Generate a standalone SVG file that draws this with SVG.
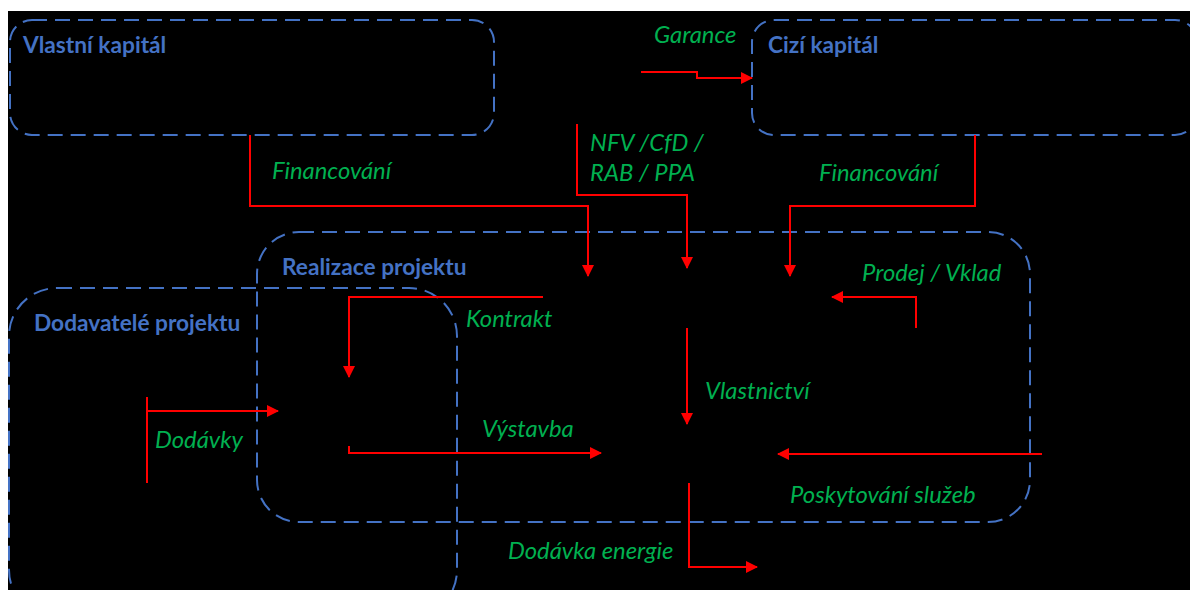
<svg xmlns="http://www.w3.org/2000/svg" width="1190" height="590" viewBox="0 0 1190 590">
<defs>
<marker id="ah" viewBox="0 0 12 12" refX="11" refY="6" markerWidth="12" markerHeight="12" markerUnits="userSpaceOnUse" orient="auto">
<path d="M0,0 L12,6 L0,12 Z" fill="#FF0000"/>
</marker>
</defs>
<style>
.box{fill:none;stroke:#4472C4;stroke-width:2;stroke-dasharray:15 8}
.title{font-family:Lato,"Liberation Sans",sans-serif;font-weight:bold;font-size:22.7px;fill:#4472C4}
.lbl{font-family:Lato,"Liberation Sans",sans-serif;font-style:italic;font-size:23.8px;fill:#00B050}
.con{fill:none;stroke:#FF0000;stroke-width:2;marker-end:url(#ah)}
.line{fill:none;stroke:#FF0000;stroke-width:2}
</style>
<rect x="0" y="0" width="1190" height="590" fill="#FFFFFF"/>
<rect x="8" y="11" width="1182" height="579" fill="#000000"/>
<g id="vlastni-kapital">
<rect class="box" x="10" y="20" width="484" height="115" rx="22"/>
<text class="title" x="23" y="53">Vlastní kapitál</text>
</g>
<g id="cizi-kapital">
<rect class="box" x="752" y="20" width="445" height="115" rx="22"/>
<text class="title" x="768" y="53">Cizí kapitál</text>
</g>
<g id="realizace-projektu">
<rect class="box" x="257" y="232" width="773" height="290" rx="42"/>
<text class="title" x="282" y="275">Realizace projektu</text>
</g>
<g id="dodavatele-projektu">
<rect class="box" x="9" y="288" width="448" height="330" rx="48"/>
<text class="title" x="34" y="331">Dodavatelé projektu</text>
</g>
<g id="connectors">
<polyline class="con" points="250,135 250,206 588,206 588,276"/>
<polyline class="con" points="577,124 577,195 687,195 687,268"/>
<polyline class="con" points="975,135 975,206 790,206 790,276"/>
<polyline class="con" points="641,72 697,72 697,78 752,78"/>
<polyline class="con" points="916,328 916,297 832,297"/>
<polyline class="con" points="543,297 349,297 349,377"/>
<line class="line" x1="147" y1="397" x2="147" y2="483"/>
<polyline class="con" points="147,411 278,411"/>
<polyline class="con" points="349,446 349,453 601,453"/>
<polyline class="con" points="687,328 687,424"/>
<polyline class="con" points="1042,454 778,454"/>
<polyline class="con" points="689,483 689,567 757,567"/>
</g>
<g id="labels">
<text class="lbl" x="654" y="43">Garance</text>
<text class="lbl" x="272" y="179">Financování</text>
<text class="lbl" x="590" y="151">NFV /CfD /</text>
<text class="lbl" x="590" y="181">RAB / PPA</text>
<text class="lbl" x="819" y="181">Financování</text>
<text class="lbl" x="862" y="281">Prodej / Vklad</text>
<text class="lbl" x="466" y="327">Kontrakt</text>
<text class="lbl" x="705" y="399">Vlastnictví</text>
<text class="lbl" x="155" y="448">Dodávky</text>
<text class="lbl" x="482" y="437">Výstavba</text>
<text class="lbl" x="790" y="503">Poskytování služeb</text>
<text class="lbl" x="508" y="559">Dodávka energie</text>
</g>
</svg>
